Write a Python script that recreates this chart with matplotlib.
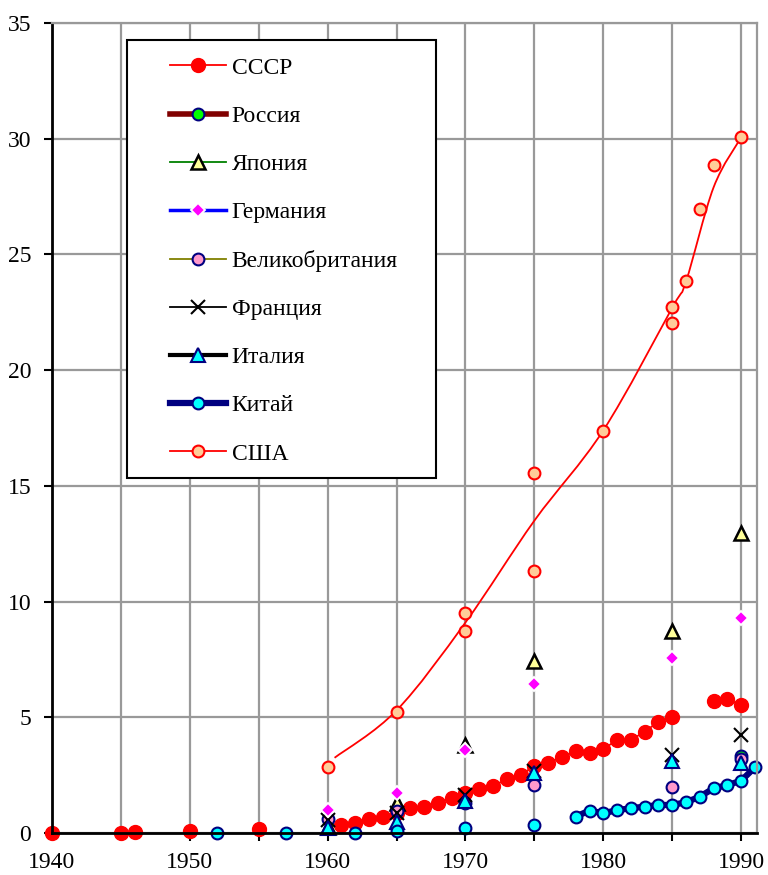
"""
Energy production by country, 1940-1990 (recreated chart).
"""

import numpy as np
import matplotlib
matplotlib.use("Agg")
import matplotlib.pyplot as plt
from matplotlib.path import Path
from matplotlib.patches import PathPatch, Rectangle
from matplotlib.lines import Line2D

plt.rcParams['font.family'] = ['Liberation Serif', 'DejaVu Serif']

# data
ussr_years = [1940, 1945, 1946, 1950, 1955] + list(range(1961, 1986)) + [1988, 1989, 1990]
ussr_vals = [0.02, 0.02, 0.03, 0.10, 0.17,
             0.35, 0.45, 0.59, 0.71, 0.88, 1.07, 1.14, 1.31, 1.50, 1.71,
             1.90, 2.04, 2.32, 2.51, 2.90, 3.04, 3.27, 3.54, 3.44, 3.63,
             4.02, 4.02, 4.38, 4.81, 5.00,
             5.72, 5.78, 5.53]

russia_years = [1990]
russia_vals = [3.33]

five_years = [1960, 1965, 1970, 1975, 1985, 1990]
japan_vals = [0.25, 1.28, 3.82, 7.43, 8.73, 12.98]
germany_vals = [0.99, 1.71, 3.59, 6.44, 7.55, 9.28]
uk_vals = [0.61, 0.97, 1.30, 2.07, 2.00, 3.20]
france_vals = [0.55, 0.85, 1.64, 2.70, 3.37, 4.24]
italy_vals = [0.20, 0.49, 1.40, 2.58, 3.12, 3.01]

china_years = [1952, 1957, 1962, 1965, 1970, 1975] + list(range(1978, 1992))
china_vals = [0.01, 0.01, 0.01, 0.10, 0.20, 0.35,
              0.71, 0.97, 0.85, 0.99, 1.07, 1.14, 1.21, 1.21, 1.33, 1.57,
              1.93, 2.07, 2.26, 2.84]

usa_years = [1960, 1965, 1970, 1970, 1975, 1975, 1980, 1985, 1985, 1986, 1987, 1988, 1990]
usa_vals = [2.87, 5.24, 9.49, 8.73, 15.55, 11.32, 17.37, 22.72, 22.05, 23.84, 26.95, 28.87, 30.06]

# smoothed trend drawn through the USA cloud
usa_trend_years = [1960.5, 1965, 1970, 1975, 1980, 1985, 1986, 1988, 1990]
usa_trend_vals = [3.25, 5.3, 9.1, 13.5, 17.4, 22.7, 23.84, 27.9, 30.06]


def with_gaps(years, vals):
    # break the line wherever years are not consecutive
    xs, ys = [years[0]], [vals[0]]
    for i in range(1, len(years)):
        if years[i] - years[i - 1] != 1:
            xs.append(np.nan)
            ys.append(np.nan)
        xs.append(years[i])
        ys.append(vals[i])
    return xs, ys


def smooth_path(xs, ys):
    # catmull-rom style bezier, like a spreadsheet "smoothed line"
    pts = np.column_stack([xs, ys])
    verts = [pts[0]]
    codes = [Path.MOVETO]
    n = len(pts)
    for i in range(n - 1):
        p0 = pts[max(i - 1, 0)]
        p1 = pts[i]
        p2 = pts[i + 1]
        p3 = pts[min(i + 2, n - 1)]
        c1 = p1 + (p2 - p0) / 6.0
        c2 = p2 - (p3 - p1) / 6.0
        verts += [c1, c2, p2]
        codes += [Path.CURVE4] * 3
    return Path(verts, codes)


fig = plt.figure(figsize=(7.68, 8.75), dpi=100)
ax = fig.add_axes([0.0677, 0.048, 0.918, 0.9257])

handles = []

x, y = with_gaps(ussr_years, ussr_vals)
h, = ax.plot(x, y, color='#FF0000', lw=1.3, marker='o', ms=10,
             mfc='#FF0000', mec='#FF0000', label='СССР', clip_on=False)
handles.append(h)

h, = ax.plot(russia_years, russia_vals, color='#800000', lw=4, marker='o', ms=8.5,
             mfc='#00FF00', mec='#000080', mew=1.5, label='Россия', clip_on=False)
handles.append(h)

x, y = with_gaps(five_years, japan_vals)
h, = ax.plot(x, y, color='#008000', lw=1.3, marker='^', ms=10.5,
             mfc='#FFFF99', mec='black', mew=1.8, label='Япония', clip_on=False)
handles.append(h)

x, y = with_gaps(five_years, uk_vals)
h_uk, = ax.plot(x, y, color='#808000', lw=1.3, marker='o', ms=8.5,
                mfc='#FF99CC', mec='#000080', mew=1.5, label='Великобритания',
                clip_on=False)

x, y = with_gaps(five_years, france_vals)
h_fr, = ax.plot(x, y, color='black', lw=1.3, marker='x', ms=10.5,
                mec='black', mew=1.5, label='Франция', clip_on=False)

x, y = with_gaps(five_years, italy_vals)
h_it, = ax.plot(x, y, color='black', lw=3, marker='^', ms=10.5,
                mfc='#00FFFF', mec='#000080', mew=1.5, label='Италия', clip_on=False)

x, y = with_gaps(five_years, germany_vals)
h_de, = ax.plot(x, y, color='#0000FF', lw=2.5, marker='D', ms=7,
                mfc='#FF00FF', mec='white', mew=1.4, label='Германия', clip_on=False)

handles += [h_de, h_uk, h_fr, h_it]

x, y = with_gaps(china_years, china_vals)
h, = ax.plot(x, y, color='#000080', lw=4.5, marker='o', ms=8.5,
             mfc='#00FFFF', mec='#000080', mew=1.5, label='Китай', clip_on=False)
handles.append(h)

ax.add_patch(PathPatch(smooth_path(usa_trend_years, usa_trend_vals),
                       fill=False, edgecolor='#FF0000', lw=1.3))
ax.plot(usa_years, usa_vals, ls='none', marker='o', ms=8.5,
        mfc='#FFCC99', mec='#FF0000', mew=1.5, clip_on=False)
handles.append(Line2D([], [], color='#FF0000', lw=1.3, marker='o', ms=8.5,
                      mfc='#FFCC99', mec='#FF0000', mew=1.5, label='США'))

# axes styling
ax.set_xlim(1940, 1991.15)
ax.set_ylim(0, 35)
xt = list(range(1940, 1991, 5))
ax.set_xticks(xt)
ax.set_xticklabels([str(v) if v % 10 == 0 else '' for v in xt])
ax.set_yticks(range(0, 36, 5))
ax.tick_params(axis='both', labelsize=17, length=6, width=1.5, direction='out')
ax.tick_params(axis='x', pad=8)
ax.tick_params(axis='y', pad=9)
ax.grid(True, color='#999999', lw=1.6)
ax.set_axisbelow(True)
for s in ['left', 'bottom']:
    ax.spines[s].set_color('black')
    ax.spines[s].set_linewidth(2)
for s in ['top', 'right']:
    ax.spines[s].set_color('#999999')
    ax.spines[s].set_linewidth(1.6)

# legend box drawn separately so the entries can sit inside with a wide margin
ax.add_patch(Rectangle((0.1064, 0.438), 0.4383, 0.541, transform=ax.transAxes,
                       facecolor='white', edgecolor='black', lw=1.5, zorder=4.5))
ax.legend(handles=handles, loc='upper left', bbox_to_anchor=(0.167, 0.958),
          frameon=False, fontsize=17, numpoints=1, handlelength=2.37,
          handletextpad=0.25, labelspacing=1.13, borderpad=0, borderaxespad=0)

fig.savefig('out.png', dpi=100)
